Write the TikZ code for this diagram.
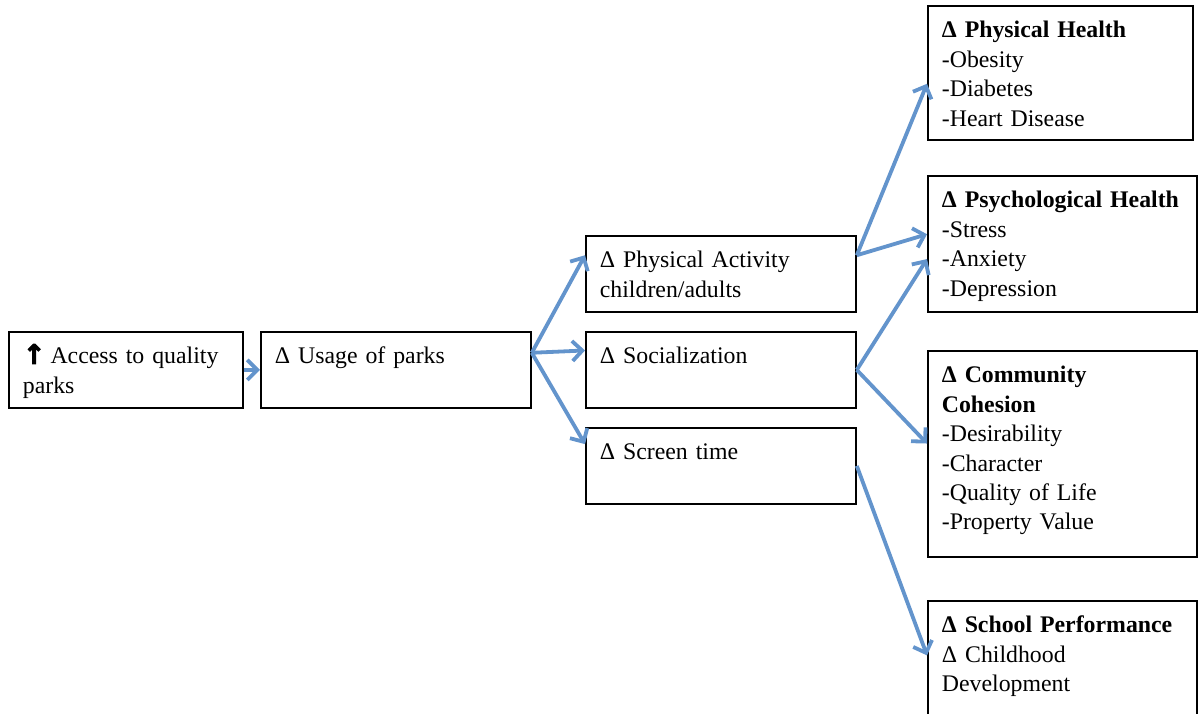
\documentclass[tikz,border=0pt]{standalone}
\usepackage{fontspec}
\setmainfont{Liberation Serif}
\newfontfamily\symfont[BoldFeatures={FakeBold=3}]{DejaVu Sans}
\usepackage{tikz}
\usetikzlibrary{calc}
\usetikzlibrary{arrows.meta}

\definecolor{arrowblue}{RGB}{99,148,204}
\tikzset{
  cell/.style={draw, line width=0.9pt, anchor=north west, align=left,
    inner xsep=7pt, inner ysep=7.5pt, text height=8.5pt,
    font=\fontsize{11.9pt}{14.7pt}\selectfont},
  link/.style={draw=arrowblue, line width=1.9pt,
    -{Straight Barb[length=5pt,width=10pt]}}
}

\begin{document}
\begin{tikzpicture}[x=0.5pt,y=-0.5pt]
  \useasboundingbox (0,0) rectangle (1198,713);
  \node (access) at (8,331) [cell, text width=103pt, text depth=14.5pt]
    {{\symfont\bfseries\fontsize{13.5pt}{14.7pt}\selectfont ↑}\hspace{2.5pt}Access to quality\\parks};
  \node (usage) at (260,331) [cell, text width=121pt, text depth=14.5pt]
    {Δ Usage of parks};
  \node (activity) at (585,235) [cell, text width=121pt, text depth=14.5pt]
    {Δ Physical Activity\\children/adults};
  \node (social) at (585,331) [cell, text width=121pt, text depth=14.5pt]
    {Δ Socialization};
  \node (screen) at (585,427) [cell, text width=121pt, text depth=14.5pt]
    {Δ Screen time};
  \node (physical) at (927,5) [cell, text width=118.5pt, text depth=43.5pt]
    {\textbf{Δ Physical Health}\\-Obesity\\-Diabetes\\-Heart Disease};
  \node (psych) at (927,175) [cell, text width=120.5pt, text depth=44.5pt]
    {\textbf{Δ Psychological Health}\\-Stress\\-Anxiety\\-Depression};
  \node (community) at (927,350) [cell, text width=120.5pt, text depth=79.5pt]
    {\textbf{Δ Community}\\\textbf{Cohesion}\\-Desirability\\-Character\\-Quality of Life\\-Property Value};
  \node (school) at (927,600) [cell, text width=120.5pt, text depth=34.5pt]
    {\textbf{Δ School Performance}\\Δ Childhood\\Development};
  \draw[link] (access.east) -- (usage.west);
  \draw[link] ($(usage.north east)!0.28!(usage.south east)$) -- ($(activity.north west)!0.26!(activity.south west)$);
  \draw[link] ($(usage.north east)!0.28!(usage.south east)$) -- ($(social.north west)!0.25!(social.south west)$);
  \draw[link] ($(usage.north east)!0.28!(usage.south east)$) -- ($(screen.north west)!0.22!(screen.south west)$);
  \draw[link] ($(activity.north east)!0.26!(activity.south east)$) -- ($(physical.north west)!0.58!(physical.south west)$);
  \draw[link] ($(activity.north east)!0.26!(activity.south east)$) -- ($(psych.north west)!0.43!(psych.south west)$);
  \draw[link] (social.east) -- ($(psych.north west)!0.61!(psych.south west)$);
  \draw[link] (social.east) -- ($(community.north west)!0.45!(community.south west)$);
  \draw[link] (screen.east) -- ($(school.north west)!0.47!(school.south west)$);
\end{tikzpicture}
\end{document}
